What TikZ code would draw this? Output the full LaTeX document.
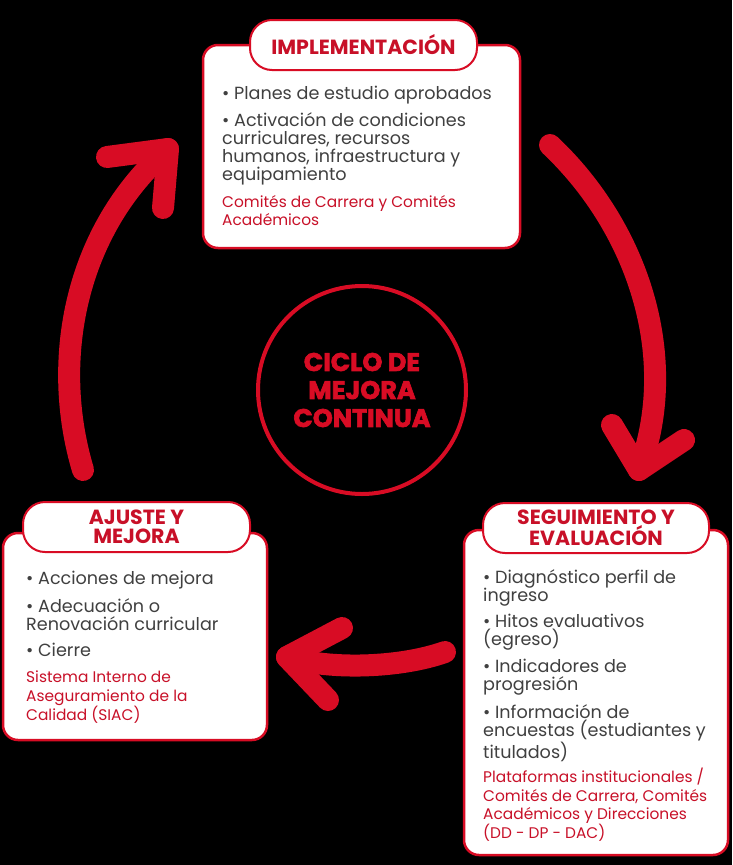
\documentclass[tikz,border=0pt]{standalone}
\usepackage{fontspec}
\setmainfont{Poppins}
\newfontfamily\heavyfont{Poppins}[BoldFeatures={FakeBold=2.5}]
\definecolor{cred}{RGB}{216,12,36}
\definecolor{tred}{RGB}{200,16,40}
\definecolor{tgray}{RGB}{64,64,64}
\tikzset{
  bigbox/.style={draw=cred, line width=2.5pt, fill=white, rounded corners=15pt, inner sep=0pt},
  tabbox/.style={draw=cred, line width=2pt, fill=white, rounded corners=22pt, inner sep=0pt,
    minimum height=50pt, text=tred, align=center,
    font=\fontsize{20.5}{19.5}\selectfont\bfseries},
  items/.style={anchor=north west, inner sep=0pt, align=left, text=tgray,
    font=\fontsize{17.6}{18.3}\selectfont},
  resp/.style={anchor=north west, inner sep=0pt, align=left, text=tred,
    font=\fontsize{15.4}{18.3}\selectfont},
  arrowline/.style={draw=cred, line width=22pt, line cap=round, line join=round},
}
\begin{document}
\begin{tikzpicture}[x=1pt,y=-1pt]
\fill[black] (0,0) rectangle (732,865);
\useasboundingbox (0,0) rectangle (732,865);

% arrows
\coordinate (a1s) at (550,145);
\coordinate (a1t) at (639,470);
\coordinate (a1l) at (612,425);
\coordinate (a1r) at (684,440);
\draw[arrowline] (a1s) .. controls (640,230) and (680,360) .. (a1t);
\draw[arrowline] (a1l) -- (a1t) -- (a1r);

\coordinate (a2s) at (445,652);
\coordinate (a2t) at (287,657);
\coordinate (a2u) at (342,628);
\coordinate (a2d) at (328,700);
\draw[arrowline] (a2s) .. controls (400,668) and (330,670) .. (a2t);
\draw[arrowline] (a2u) -- (a2t) -- (a2d);

\coordinate (a3s) at (83,470);
\coordinate (a3t) at (168,149);
\coordinate (a3l) at (107,157);
\coordinate (a3d) at (163,208);
\draw[arrowline] (a3s) .. controls (50,360) and (75,230) .. (a3t);
\draw[arrowline] (a3l) -- (a3t) -- (a3d);

% centre circle
\node[circle, draw=cred, line width=4pt, minimum size=208pt, inner sep=0pt,
  text=cred, align=center, font=\fontsize{25.5}{28}\selectfont\heavyfont\bfseries]
  (ciclo) at (362,390) {CICLO DE\\MEJORA\\CONTINUA};

% top box
\node[bigbox, minimum width=317pt, minimum height=203pt] (impbox) at (361.5,146.5) {};
\node[tabbox, minimum width=227pt] (imptab) at (363.5,45) {IMPLEMENTACIÓN};
\node[items] (impitems) at (222,86) {• Planes de estudio aprobados\\[7pt]• Activación de condiciones\\curriculares, recursos\\humanos, infraestructura y\\equipamiento};
\node[resp] (impresp) at (222,195) {Comités de Carrera y Comités\\Académicos};

% left box
\node[bigbox, minimum width=264pt, minimum height=207pt] (ajubox) at (135,636.5) {};
\node[tabbox, minimum width=227pt] (ajutab) at (136.5,527) {AJUSTE Y\\MEJORA};
\node[items] (ajuitems) at (26,571) {• Acciones de mejora\\[8pt]• Adecuación o\\Renovación curricular\\[8pt]• Cierre};
\node[resp] (ajuresp) at (26,671) {Sistema Interno de\\Aseguramiento de la\\Calidad (SIAC)};

% right box
\node[bigbox, minimum width=264pt, minimum height=325pt] (segbox) at (596,692.5) {};
\node[tabbox, minimum width=226pt] (segtab) at (596,528) {SEGUIMIENTO Y\\EVALUACIÓN};
\node[items] (segitems) at (483,569) {• Diagnóstico perfil de\\ingreso\\[8pt]• Hitos evaluativos\\(egreso)\\[8pt]• Indicadores de\\progresión\\[8pt]• Información de\\encuestas (estudiantes y\\titulados)};
\node[resp] (segresp) at (483,768) {Plataformas institucionales /\\Comités de Carrera, Comités\\Académicos y Direcciones\\(DD - DP - DAC)};
\end{tikzpicture}
\end{document}
